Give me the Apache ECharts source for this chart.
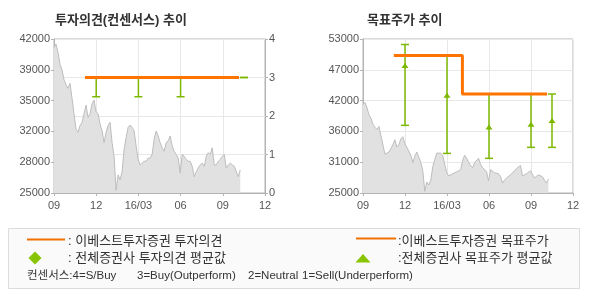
<!DOCTYPE html>
<html>
<head>
<meta charset="utf-8">
<script src="https://cdn.jsdelivr.net/npm/echarts@6/dist/echarts.min.js"></script>
<style>
html,body{margin:0;padding:0;background:#fff;}
#c{width:590px;height:300px;}
</style>
</head>
<body>
<div id="c"></div>
<script>
// ---- data ----
const xTickLabels = ['09', '12', '16/03', '06', '09', '12']; // quarters, month offsets 0..15 from 2015-09
const leftPriceTickLabels = ['25000', '28000', '32000', '35000', '39000', '42000'];
const rightPriceTickLabels = ['25000', '31000', '36000', '42000', '47000', '53000'];
const opinionTickLabels = ['0', '1', '2', '3', '4'];

// closing price samples (every ~3 trading days), month offset start/step
const priceStartMonth = 0;
const priceStepMonth = 0.1424;
const prices = [
  41050, 41450, 40500, 39200, 38600, 37500, 36950, 36550, 37100, 35450,
  33750, 32050, 31700, 32450, 32800, 33750, 34700, 33350, 33750, 34850,
  35250, 33950, 33750, 32600, 31850, 30550, 31700, 32450, 32800, 30550,
  29050, 25300, 27000, 26450, 27350, 29800, 31100, 32250, 32500, 32250,
  31850, 30200, 28700, 28100, 28300, 28500, 28500, 28850, 28850, 29250,
  30950, 31850, 31300, 30550, 30000, 29600, 30550, 30750, 31300, 30200,
  29600, 29250, 28850, 27200, 29250, 29050, 28700, 28500, 28500, 27950,
  26800, 27350, 27750, 28100, 28300, 27950, 29050, 29450, 29250, 30000,
  28100, 28100, 28500, 28700, 29050, 29250, 27750, 28100, 28300, 28100,
  27950, 27350, 26800, 27550
];

// 이베스트투자증권 투자의견 (month offset, value)
const opinionX = [2.2, 13.15];
const opinionY = [3, 3];
// 전체증권사 투자의견 범위
const consOpX = [3, 6, 9, 13.5];
const consOpLow = [2.5, 2.5, 2.5, 3];
const consOpHigh = [3, 3, 3, 3];

// 이베스트투자증권 목표주가 (step)
const targetX = [2.2, 7.1, 13.15];
const targetY = [50000, 43000, 43000];
// 전체증권사 목표주가 범위 / 평균
const consTpX = [3, 6, 9, 12, 13.5];
const consTpLow = [37300, 32200, 31300, 33300, 33300];
const consTpHigh = [52000, 50000, 43000, 43000, 43000];
const consTpAvg = [48100, 42700, 36900, 37400, 38100];

// ---- build ----
const ORANGE = '#ff7300';
const GREEN = '#7cb800';
const AXIS = '#b4b4b4';
const GRID = '#e8e8e8';
const LBL = '#555';
const NUMFONT = "'Liberation Sans', 'Noto Sans CJK KR', sans-serif";

const priceData = prices.map((p, i) => [priceStartMonth + i * priceStepMonth, p]);

function errorBar(capHalf, withAvg) {
  return function (params, api) {
    const x = api.value(0), lo = api.value(1), hi = api.value(2);
    const pHi = api.coord([x, hi]), pLo = api.coord([x, lo]);
    const st = { stroke: GREEN, lineWidth: 1.5, fill: null };
    const ch = [
      { type: 'line', shape: { x1: pHi[0], y1: pHi[1], x2: pLo[0], y2: pLo[1] }, style: st },
      { type: 'line', shape: { x1: pHi[0] - capHalf, y1: pHi[1], x2: pHi[0] + capHalf, y2: pHi[1] }, style: st },
      { type: 'line', shape: { x1: pLo[0] - capHalf, y1: pLo[1], x2: pLo[0] + capHalf, y2: pLo[1] }, style: st }
    ];
    if (withAvg) {
      const pa = api.coord([x, api.value(3)]);
      ch.push({ type: 'polygon', shape: { points: [[pa[0], pa[1] - 3], [pa[0] + 3.5, pa[1] + 2], [pa[0] - 3.5, pa[1] + 2]] }, style: { fill: GREEN } });
    }
    return { type: 'group', children: ch };
  };
}

function xAxisCfg(gi) {
  return {
    type: 'value', gridIndex: gi, min: 0, max: 15, interval: 3,
    axisLine: { show: true, lineStyle: { color: AXIS } },
    axisTick: { show: true, length: 3, lineStyle: { color: AXIS } },
    axisLabel: { color: LBL, fontSize: 11, fontFamily: NUMFONT, margin: 7,
      formatter: v => xTickLabels[Math.round(v / 3)] },
    splitLine: { show: true, lineStyle: { color: GRID } }
  };
}
function displayY(gi, labels, split) {
  return {
    type: 'value', gridIndex: gi, position: 'left', min: 0, max: labels.length - 1, interval: 1,
    axisLine: { show: true, lineStyle: { color: AXIS } },
    axisTick: { show: true, length: 3, lineStyle: { color: AXIS } },
    axisLabel: { color: LBL, fontSize: 11, fontFamily: NUMFONT, margin: 4,
      formatter: v => labels[Math.round(v)] },
    splitLine: { show: split, lineStyle: { color: GRID } }
  };
}
function txt(x, y, s, font) {
  return { type: 'text', x: x, y: y, style: { text: s, font: font, fill: '#333', verticalAlign: 'middle', textVerticalAlign: 'middle' } };
}
const LEGF = '13px ' + NUMFONT;
const ROW3F = '11.5px ' + NUMFONT;

const option = {
  animation: false,
  grid: [
    { left: 54, right: 325, top: 39, bottom: 107, show: true, borderColor: AXIS, borderWidth: 1 },
    { left: 363, right: 17, top: 39, bottom: 107, show: true, borderColor: AXIS, borderWidth: 1 }
  ],
  xAxis: [xAxisCfg(0), xAxisCfg(1)],
  yAxis: [
    displayY(0, leftPriceTickLabels, false),
    { type: 'value', gridIndex: 0, position: 'right', min: 0, max: 4, interval: 1,
      axisLine: { show: true, lineStyle: { color: AXIS } },
      axisTick: { show: true, length: 3, lineStyle: { color: AXIS } },
      axisLabel: { color: LBL, fontSize: 11, fontFamily: NUMFONT, margin: 4,
        formatter: v => opinionTickLabels[Math.round(v)] },
      splitLine: { show: true, lineStyle: { color: GRID } } },
    { type: 'value', gridIndex: 0, show: false, min: 25000, max: 42000, splitLine: { show: false } },
    displayY(1, rightPriceTickLabels, true),
    { type: 'value', gridIndex: 1, show: false, min: 25000, max: 53000, splitLine: { show: false } }
  ],
  series: [
    { type: 'line', xAxisIndex: 0, yAxisIndex: 2, data: priceData, showSymbol: false, z: 1,
      lineStyle: { color: '#bdbdbd', width: 1 }, areaStyle: { color: '#e1e1e1', opacity: 1 } },
    { type: 'custom', xAxisIndex: 0, yAxisIndex: 1, z: 3, renderItem: errorBar(4, false),
      encode: { x: 0, y: [1, 2] },
      data: consOpX.map((x, i) => [x, consOpLow[i], consOpHigh[i]]) },
    { type: 'line', xAxisIndex: 0, yAxisIndex: 1, z: 5, showSymbol: false,
      lineStyle: { color: ORANGE, width: 3 },
      data: opinionX.map((x, i) => [x, opinionY[i]]) },

    { type: 'line', xAxisIndex: 1, yAxisIndex: 4, data: priceData, showSymbol: false, z: 1,
      lineStyle: { color: '#bdbdbd', width: 1 }, areaStyle: { color: '#e1e1e1', opacity: 1 } },
    { type: 'custom', xAxisIndex: 1, yAxisIndex: 4, z: 3, renderItem: errorBar(4, true),
      encode: { x: 0, y: [1, 2, 3] },
      data: consTpX.map((x, i) => [x, consTpLow[i], consTpHigh[i], consTpAvg[i]]) },
    { type: 'line', xAxisIndex: 1, yAxisIndex: 4, z: 5, showSymbol: false, step: 'end',
      lineStyle: { color: ORANGE, width: 3 },
      data: targetX.map((x, i) => [x, targetY[i]]) }
  ],
  graphic: [
    txt(55, 20, '투자의견(컨센서스) 추이', 'bold 13px ' + NUMFONT),
    txt(367, 20, '목표주가 추이', 'bold 13px ' + NUMFONT),
    { type: 'rect', shape: { x: 8.5, y: 228.5, width: 571, height: 60 }, style: { fill: '#fafafa', stroke: '#dcdcdc', lineWidth: 1 }, z: -1 },
    { type: 'line', shape: { x1: 27, y1: 239.5, x2: 65, y2: 239.5 }, style: { stroke: '#f07000', lineWidth: 2 } },
    txt(68, 241, ': 이베스트투자증권 투자의견', LEGF),
    { type: 'polygon', shape: { points: [[35, 251.5], [41.5, 258], [35, 264.5], [28.5, 258]] }, style: { fill: '#88c400' } },
    txt(68, 258.5, ': 전체증권사 투자의견 평균값', LEGF),
    { type: 'line', shape: { x1: 356, y1: 238.5, x2: 396, y2: 238.5 }, style: { stroke: '#f07000', lineWidth: 2 } },
    txt(398, 241, ':이베스트투자증권 목표주가', LEGF),
    { type: 'polygon', shape: { points: [[363, 254], [370.5, 262.5], [355.5, 262.5]] }, style: { fill: '#88c400' } },
    txt(398, 258.5, ':전체증권사 목표주가 평균값', LEGF),
    txt(27, 276, '컨센서스:4=S/Buy', ROW3F),
    txt(137, 276, '3=Buy(Outperform)', ROW3F),
    txt(248, 276, '2=Neutral', ROW3F),
    txt(302, 276, '1=Sell(Underperform)', ROW3F)
  ]
};

const chart = echarts.init(document.getElementById('c'), null, { renderer: 'canvas' });
chart.setOption(option);
</script>
</body>
</html>
